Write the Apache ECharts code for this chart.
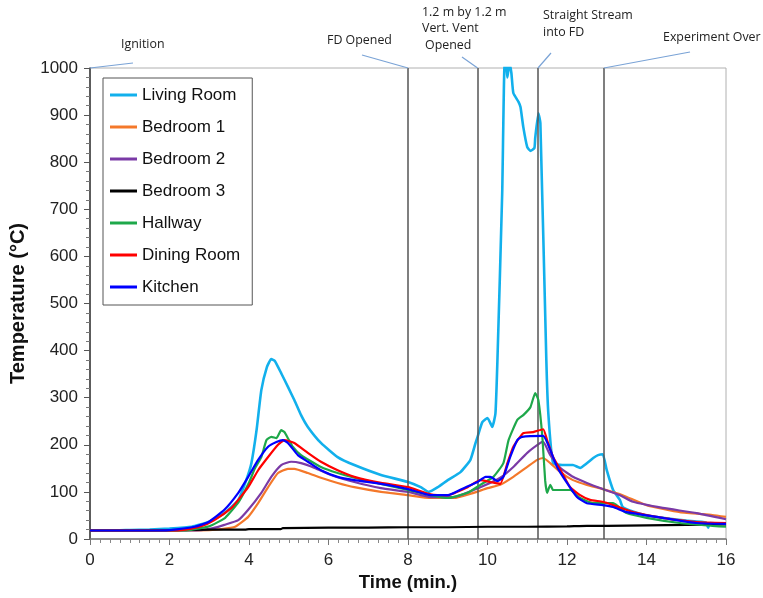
<!DOCTYPE html>
<html>
<head>
<meta charset="utf-8">
<script src="https://cdn.jsdelivr.net/npm/echarts@6/dist/echarts.min.js"></script>
<style>html,body{margin:0;padding:0;background:#fff;}#c{width:763px;height:598px;}</style>
</head>
<body>
<div id="c"></div>
<script>
const seriesNames = ['Living Room','Bedroom 1','Bedroom 2','Bedroom 3','Hallway','Dining Room','Kitchen'];
const xTicks = [0,2,4,6,8,10,12,14,16];
const yTicks = [0,100,200,300,400,500,600,700,800,900,1000];

const livingRoom = [[0,18],[0.5,18],[1,19],[1.5,20],[2,22],[2.56,26],[2.98,36],[3.38,55],[3.73,83],[3.93,125],[4.06,161],[4.19,231],[4.31,316],[4.45,365],[4.56,382],[4.65,378],[4.81,352],[4.98,323],[5.14,295],[5.31,263],[5.48,238],[5.81,204],[6.23,174],[6.65,157],[7.32,136],[8.0,121],[8.32,110],[8.52,100],[8.75,110],[9.0,125],[9.32,142],[9.57,168],[9.7,204],[9.75,217],[9.87,248],[10.0,257],[10.12,238],[10.2,267],[10.25,380],[10.37,735],[10.43,1010],[10.47,1010],[10.5,980],[10.55,1010],[10.6,990],[10.65,947],[10.78,928],[10.83,917],[10.9,875],[11.0,832],[11.08,824],[11.18,830],[11.2,851],[11.28,904],[11.33,883],[11.48,380],[11.53,267],[11.65,161],[11.88,157],[12.15,157],[12.33,151],[12.5,161],[12.66,172],[12.78,178],[12.9,180],[13.0,146],[13.16,104],[13.33,83],[13.4,68],[13.6,60],[14,50],[14.5,44],[15,39],[15.5,35],[15.55,24],[15.6,34],[16,32]];
const bedroom1 = [[0,18],[1,18],[2,18],[2.5,18],[3,19],[3.3,21],[3.65,26],[3.98,47],[4.23,76],[4.48,110],[4.73,140],[4.98,149],[5.14,149],[5.48,140],[5.81,130],[6.23,119],[6.65,110],[7.32,100],[8.0,93],[8.57,87],[9.15,87],[9.65,98],[10.0,108],[10.32,115],[10.65,132],[11.0,153],[11.25,168],[11.4,172],[11.58,161],[11.83,142],[12.15,125],[12.5,115],[12.9,106],[13.4,93],[14.0,72],[14.84,57],[15.66,51],[16,47]];
const bedroom2 = [[0,18],[2,18],[2.8,19],[3.1,23],[3.38,30],[3.73,40],[3.98,62],[4.31,98],[4.56,132],[4.81,157],[5.06,164],[5.31,161],[5.65,151],[6.06,136],[6.65,121],[7.32,108],[8.0,100],[8.57,89],[9.15,89],[9.82,110],[10.32,130],[10.65,153],[11.0,183],[11.33,204],[11.4,206],[11.58,178],[11.83,151],[12.15,132],[12.5,119],[12.9,106],[13.33,93],[13.66,79],[14.41,66],[15.26,55],[16,42]];
const bedroom3 = [[0,18],[1,18],[2,19],[3,20],[3.9,20],[4,21],[4.8,21],[4.85,23],[6,24],[7,24],[8,25],[9,25],[10,26],[11,26],[12,27],[12.5,28],[13,28],[14,29],[15,30],[16,31]];
const hallway = [[0,18],[2,18],[2.5,19],[3,27],[3.4,45],[3.75,80],[4.0,120],[4.15,150],[4.31,174],[4.44,210],[4.56,217],[4.69,214],[4.81,231],[4.89,227],[4.98,214],[5.1,196],[5.31,178],[5.81,153],[6.23,140],[6.65,130],[7.32,117],[8.0,104],[8.57,93],[9.0,87],[9.5,98],[9.82,115],[10.15,132],[10.4,161],[10.53,210],[10.75,253],[10.9,263],[11.08,280],[11.2,310],[11.28,295],[11.38,217],[11.45,125],[11.5,98],[11.58,115],[11.65,104],[11.88,104],[12.08,104],[12.33,87],[12.66,76],[13.16,76],[13.5,55],[14.0,45],[14.84,34],[15.66,28],[16,26]];
const diningRoom = [[0,18],[2,18],[2.4,20],[2.8,27],[3.13,40],[3.56,66],[3.73,83],[3.98,110],[4.23,146],[4.48,174],[4.73,200],[4.89,210],[5.14,204],[5.48,183],[5.81,164],[6.23,146],[6.65,132],[7.32,119],[8.0,110],[8.57,95],[9.0,93],[9.5,110],[9.82,125],[10.07,121],[10.32,117],[10.5,161],[10.65,196],[10.9,225],[11.15,227],[11.4,233],[11.5,210],[11.65,174],[11.88,140],[12.08,110],[12.33,93],[12.58,83],[12.9,79],[13.16,72],[13.66,57],[14.41,45],[15.26,36],[16,34]];
const kitchen = [[0,18],[1.5,18],[2,19],[2.63,26],[2.98,36],[3.38,62],[3.73,98],[3.98,132],[4.23,168],[4.48,196],[4.69,206],[4.85,210],[4.98,204],[5.23,178],[5.48,164],[5.81,146],[6.23,132],[6.65,125],[7.32,117],[8.0,106],[8.57,93],[9.0,93],[9.4,108],[9.75,121],[9.95,132],[10.07,132],[10.25,123],[10.4,132],[10.57,174],[10.75,210],[10.87,217],[11.4,219],[11.58,189],[11.75,153],[12.0,119],[12.25,89],[12.5,76],[12.9,72],[13.16,68],[13.5,57],[14.41,45],[15.26,34],[16,32]];

const eventTimes = [8.0, 9.75, 11.27, 12.93];
const eventLabels = ['FD Opened', '1.2 m by 1.2 m\nVert. Vent\n Opened', 'Straight Stream\ninto FD', 'Experiment Over'];

const colors = ['#12b0ec','#f4782a','#7a3aa6','#000000','#1ea84a','#ff0000','#0000ff'];
const dataList = [livingRoom, bedroom1, bedroom2, bedroom3, hallway, diningRoom, kitchen];

const chart = echarts.init(document.getElementById('c'), null, {renderer:'canvas'});
const font = 'Liberation Sans, Arial, sans-serif';

const series = dataList.map((d, i) => ({
  name: seriesNames[i],
  type: 'line',
  data: d,
  showSymbol: false,
  symbol: 'none',
  smooth: 0.15,
  clip: true,
  color: colors[i],
  lineStyle: {width: i === 0 ? 2.6 : 2.2, color: colors[i]},
  emphasis: {disabled: true},
  z: 2 + i
}));
series.push({
  name: 'events',
  type: 'line',
  data: [[eventTimes[0], 0]],
  symbol: 'none',
  lineStyle: {opacity: 0},
  markLine: {
    silent: true,
    symbol: ['none','none'],
    label: {show: false},
    lineStyle: {color: '#555', width: 1.5, type: 'solid'},
    data: eventTimes.map(t => ({xAxis: t}))
  },
  z: 1
});

chart.setOption({
  backgroundColor: '#fff',
  animation: false,
  grid: {left: 88, right: 37, top: 68, bottom: 59, show: true, borderColor: '#b0b0b0', borderWidth: 1},
  legend: {
    data: seriesNames,
    orient: 'vertical',
    left: 103, top: 78,
    icon: 'rect',
    itemWidth: 27, itemHeight: 3,
    itemGap: 12,
    padding: [7, 12, 8, 7],
    borderColor: '#555', borderWidth: 1,
    backgroundColor: '#fff',
    textStyle: {fontFamily: font, fontSize: 17, color: '#111', lineHeight: 20},
    itemStyle: {borderWidth: 0},
    selectedMode: false
  },
  xAxis: {
    type: 'value', min: 0, max: 16, interval: 2,
    name: 'Time (min.)', nameLocation: 'middle', nameGap: 34,
    nameTextStyle: {fontFamily: font, fontSize: 18.5, fontWeight: 'bold', color: '#111'},
    axisLine: {show: true, onZero: false, lineStyle: {color: '#777', width: 1.5}},
    axisTick: {show: true, inside: false, length: 6, lineStyle: {color: '#777'}},
    minorTick: {show: true, splitNumber: 8, length: 4, lineStyle: {color: '#888'}},
    axisLabel: {fontFamily: font, fontSize: 17, color: '#222', margin: 13, formatter: v => xTicks.includes(v) ? String(v) : ''},
    splitLine: {show: false}
  },
  yAxis: {
    type: 'value', min: 0, max: 1000, interval: 100,
    name: 'Temperature (°C)', nameLocation: 'middle', nameGap: 62,
    nameTextStyle: {fontFamily: font, fontSize: 20, fontWeight: 'bold', color: '#111'},
    axisLine: {show: true, lineStyle: {color: '#333', width: 1.5}},
    axisTick: {show: true, inside: false, length: 6, lineStyle: {color: '#555'}},
    minorTick: {show: true, splitNumber: 5, length: 4, lineStyle: {color: '#777'}},
    axisLabel: {fontFamily: font, fontSize: 17, color: '#222', margin: 12, formatter: v => yTicks.includes(v) ? String(v) : ''},
    splitLine: {show: false}
  },
  series: series
});

// annotations (leader lines + texts) anchored to the top of the event lines
const annFont = '12.4px "Open Sans", "Noto Sans", sans-serif';
const topOf = t => chart.convertToPixel({gridIndex: 0}, [t, 1000]);
const ign = topOf(0);
const evTops = eventTimes.map(topOf);
const leaderStarts = [[362,55],[462,57],[551,53],[690,52]];
const graphics = [];
const leaderStyle = {stroke: '#7aa3d6', lineWidth: 1.2};
graphics.push({type:'line', shape:{x1: ign[0], y1: ign[1], x2: 133, y2: 63}, style: leaderStyle, z: 100});
evTops.forEach((p, i) => {
  graphics.push({type:'line', shape:{x1: leaderStarts[i][0], y1: leaderStarts[i][1], x2: p[0], y2: p[1]}, style: leaderStyle, z: 100});
});
const texts = [
  {text: 'Ignition', x: 121, y: 44},
  {text: eventLabels[0], x: 327, y: 40},
  {text: '1.2 m by 1.2 m', x: 422, y: 12},
  {text: 'Vert. Vent', x: 422, y: 28},
  {text: 'Opened', x: 425, y: 45},
  {text: 'Straight Stream', x: 543, y: 15},
  {text: 'into FD', x: 543, y: 32},
  {text: eventLabels[3], x: 663, y: 37}
];
texts.forEach(t => {
  graphics.push({type:'text', x: t.x, y: t.y, style:{text: t.text, font: annFont, fill: '#222', textVerticalAlign: 'middle', textAlign: 'left'}, z: 100});
});
chart.setOption({graphic: graphics});
</script>
</body>
</html>
